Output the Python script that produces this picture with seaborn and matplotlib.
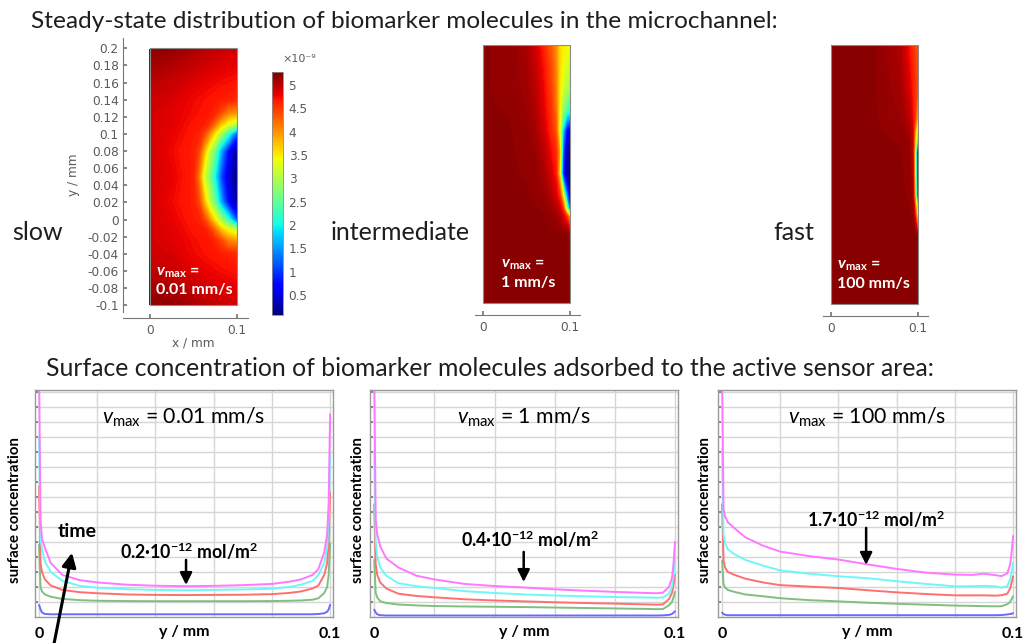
import numpy as np
import pandas as pd
import matplotlib
matplotlib.use("Agg")
import matplotlib.pyplot as plt
from matplotlib.patches import Rectangle
import matplotlib.cm as cm
import matplotlib.colors as mcolors
import seaborn as sns

sns.set_theme(style="white")
plt.rcParams["font.family"] = ["Lato", "DejaVu Sans"]
plt.rcParams.update({
    "mathtext.fontset": "custom",
    "mathtext.rm": "Lato",
    "mathtext.it": "Lato:italic",
    "mathtext.bf": "Lato:bold",
    "mathtext.bfit": "Lato:bold:italic",
    "mathtext.sf": "Lato",
})

# ---------------- data: concentration fields (units 1e-9) ----------------
c_min, c_max = 0.07, 5.28
cbar_ticks = [0.5, 1, 1.5, 2, 2.5, 3, 3.5, 4, 4.5, 5]
cbar_labels = ["0.5", "1", "1.5", "2", "2.5", "3", "3.5", "4", "4.5", "5"]
hm_yticks = [-0.1, -0.08, -0.06, -0.04, -0.02, 0, 0.02, 0.04, 0.06, 0.08, 0.1, 0.12, 0.14, 0.16, 0.18, 0.2]
hm_ytick_labels = ["-0.1", "-0.08", "-0.06", "-0.04", "-0.02", "0", "0.02", "0.04", "0.06", "0.08",
                   "0.1", "0.12", "0.14", "0.16", "0.18", "0.2"]

slow_x = [0, 0.025, 0.04, 0.05, 0.056, 0.062, 0.068, 0.075, 0.082, 0.09, 0.1]
slow_y = [0.2, 0.16, 0.14, 0.125, 0.112, 0.1, 0.08, 0.05, 0.02, 0, -0.012, -0.025, -0.04, -0.06, -0.1]
slow_c = [
    [5.22, 5.18, 5.12, 5.08, 5.05, 5.02, 5.00, 4.97, 4.94, 4.92, 4.90],
    [5.00, 4.94, 4.88, 4.84, 4.82, 4.80, 4.78, 4.76, 4.74, 4.72, 4.70],
    [4.92, 4.88, 4.80, 4.76, 4.74, 4.72, 4.70, 4.68, 4.65, 4.62, 4.60],
    [4.90, 4.83, 4.78, 4.74, 4.72, 4.70, 4.68, 4.60, 4.40, 4.10, 3.95],
    [4.90, 4.82, 4.75, 4.70, 4.68, 4.66, 4.55, 4.20, 3.75, 3.40, 3.10],
    [4.90, 4.80, 4.72, 4.66, 4.64, 4.45, 4.05, 3.50, 2.90, 2.20, 1.10],
    [4.90, 4.76, 4.68, 4.64, 4.45, 3.85, 3.20, 2.55, 1.60, 0.75, 0.18],
    [4.90, 4.80, 4.70, 4.64, 4.15, 3.30, 2.75, 2.00, 1.10, 0.50, 0.10],
    [4.90, 4.76, 4.68, 4.64, 4.45, 3.85, 3.20, 2.55, 1.60, 0.75, 0.18],
    [4.90, 4.80, 4.72, 4.66, 4.64, 4.45, 4.05, 3.50, 2.90, 2.20, 1.10],
    [4.90, 4.82, 4.75, 4.70, 4.68, 4.66, 4.55, 4.20, 3.75, 3.40, 3.10],
    [4.90, 4.83, 4.78, 4.74, 4.72, 4.70, 4.68, 4.60, 4.40, 4.10, 3.95],
    [4.92, 4.88, 4.80, 4.76, 4.74, 4.72, 4.70, 4.68, 4.65, 4.62, 4.60],
    [5.00, 4.94, 4.88, 4.84, 4.82, 4.80, 4.78, 4.76, 4.74, 4.72, 4.70],
    [5.22, 5.18, 5.12, 5.08, 5.05, 5.02, 5.00, 4.97, 4.94, 4.92, 4.90],
]

mid_x = [0, 0.03, 0.05, 0.06, 0.07, 0.078, 0.084, 0.088, 0.092, 0.096, 0.1]
mid_y = [0.2, 0.175, 0.15, 0.125, 0.1, 0.075, 0.05, 0.025, 0.01, 0, -0.02, -0.1]
mid_c = [
    [5.22, 5.20, 5.08, 4.90, 4.60, 4.30, 4.00, 3.60, 3.50, 3.45, 3.40],
    [5.22, 5.20, 5.10, 4.95, 4.70, 4.40, 4.05, 3.60, 3.40, 3.25, 3.15],
    [5.22, 5.20, 5.12, 5.00, 4.75, 4.45, 4.10, 3.55, 3.20, 3.00, 2.90],
    [5.22, 5.21, 5.15, 5.05, 4.80, 4.55, 4.15, 3.50, 2.80, 2.40, 2.20],
    [5.22, 5.22, 5.18, 5.10, 4.88, 4.60, 4.30, 3.40, 1.80, 0.70, 0.50],
    [5.22, 5.22, 5.20, 5.15, 5.00, 4.75, 4.55, 3.90, 1.20, 0.30, 0.12],
    [5.22, 5.22, 5.21, 5.18, 5.08, 4.88, 4.65, 3.60, 0.90, 0.25, 0.10],
    [5.22, 5.22, 5.22, 5.20, 5.15, 5.02, 4.85, 4.55, 3.50, 1.50, 0.30],
    [5.22, 5.22, 5.22, 5.22, 5.20, 5.12, 5.02, 4.90, 4.50, 3.00, 1.00],
    [5.22, 5.22, 5.22, 5.22, 5.22, 5.20, 5.15, 5.05, 4.90, 4.60, 3.80],
    [5.22, 5.22, 5.22, 5.22, 5.22, 5.22, 5.22, 5.22, 5.22, 5.22, 5.10],
    [5.22, 5.22, 5.22, 5.22, 5.22, 5.22, 5.22, 5.22, 5.22, 5.22, 5.22],
]

fast_x = [0, 0.05, 0.08, 0.09, 0.094, 0.0965, 0.0985, 0.1]
fast_y = [0.2, 0.15, 0.115, 0.1, 0.075, 0.05, 0.025, 0, -0.02, -0.1]
fast_c = [
    [5.22, 5.22, 5.05, 4.70, 4.55, 4.45, 4.40, 4.35],
    [5.22, 5.22, 5.10, 4.85, 4.65, 4.55, 4.45, 4.40],
    [5.22, 5.22, 5.15, 5.00, 4.75, 4.50, 4.00, 3.80],
    [5.22, 5.22, 5.20, 5.10, 4.85, 4.00, 3.20, 2.80],
    [5.22, 5.22, 5.22, 5.18, 4.90, 3.50, 1.20, 0.40],
    [5.22, 5.22, 5.22, 5.20, 5.00, 3.60, 1.30, 0.45],
    [5.22, 5.22, 5.22, 5.21, 5.10, 3.90, 1.60, 0.80],
    [5.22, 5.22, 5.22, 5.22, 5.20, 4.80, 4.00, 3.40],
    [5.22, 5.22, 5.22, 5.22, 5.22, 5.22, 5.22, 5.20],
    [5.22, 5.22, 5.22, 5.22, 5.22, 5.22, 5.22, 5.22],
]

# ---------------- data: surface concentration curves (grid units) ----------------
y_mm = [0, 0.0005, 0.001, 0.002, 0.004, 0.008, 0.014, 0.02, 0.03, 0.04, 0.05,
        0.06, 0.07, 0.08, 0.086, 0.09, 0.094, 0.096, 0.098, 0.099, 0.0995, 0.1]
time_steps = ["t1", "t2", "t3", "t4", "t5"]

slow_t1 = [0.8, 0.5, 0.3, 0.2, 0.18, 0.18, 0.18, 0.18, 0.18, 0.18, 0.18, 0.18, 0.18, 0.18, 0.18, 0.18, 0.18, 0.2, 0.25, 0.35, 0.5, 0.8]
slow_t2 = [4.8, 2.0, 1.7, 1.5, 1.35, 1.2, 1.12, 1.08, 1.06, 1.05, 1.05, 1.05, 1.05, 1.06, 1.08, 1.1, 1.15, 1.25, 1.6, 2.0, 2.8, 4.9]
slow_t3 = [8.7, 3.6, 3.0, 2.5, 2.1, 1.8, 1.65, 1.58, 1.5, 1.47, 1.46, 1.47, 1.48, 1.52, 1.6, 1.7, 1.9, 2.1, 2.8, 3.6, 5.0, 8.3]
slow_t4 = [11.9, 5.2, 4.5, 3.7, 3.0, 2.4, 2.07, 1.95, 1.85, 1.8, 1.78, 1.8, 1.83, 1.88, 2.0, 2.15, 2.4, 2.8, 3.6, 4.6, 6.5, 10.8]
slow_t5 = [16, 6.5, 5.2, 4.6, 3.6, 2.8, 2.45, 2.3, 2.15, 2.08, 2.05, 2.07, 2.12, 2.2, 2.35, 2.5, 2.8, 3.2, 4.3, 5.5, 7.5, 13.5]

mid_t1 = [0.49, 0.3, 0.18, 0.12, 0.1, 0.1, 0.1, 0.1, 0.1, 0.1, 0.1, 0.1, 0.1, 0.1, 0.1, 0.1, 0.1, 0.11, 0.14, 0.2, 0.28, 0.38]
mid_t2 = [3.8, 1.6, 1.3, 1.05, 0.93, 0.83, 0.77, 0.73, 0.7, 0.68, 0.66, 0.63, 0.6, 0.57, 0.55, 0.54, 0.52, 0.53, 0.78, 1.0, 1.3, 1.67]
mid_t3 = [7.5, 3.5, 2.8, 2.3, 1.9, 1.55, 1.4, 1.31, 1.18, 1.1, 1.04, 0.98, 0.93, 0.89, 0.86, 0.84, 0.82, 0.84, 1.2, 1.6, 2.1, 2.8]
mid_t4 = [11.1, 5.0, 4.0, 3.3, 2.75, 2.25, 2.05, 1.93, 1.72, 1.6, 1.5, 1.43, 1.38, 1.33, 1.31, 1.3, 1.28, 1.3, 1.55, 2.0, 2.7, 3.9]
mid_t5 = [16, 6.5, 5.5, 4.7, 3.9, 3.3, 2.75, 2.5, 2.2, 2.06, 1.96, 1.84, 1.75, 1.67, 1.63, 1.6, 1.58, 1.62, 2.0, 2.6, 3.5, 5.0]

fast_t1 = [0.29, 0.2, 0.15, 0.12, 0.12, 0.12, 0.12, 0.12, 0.12, 0.12, 0.12, 0.12, 0.12, 0.12, 0.12, 0.12, 0.12, 0.13, 0.17, 0.2, 0.22, 0.25]
fast_t2 = [3.73, 2.2, 1.96, 1.8, 1.68, 1.5, 1.38, 1.25, 1.12, 1.04, 0.95, 0.88, 0.82, 0.76, 0.74, 0.72, 0.71, 0.72, 0.85, 1.0, 1.2, 1.38]
fast_t3 = [7.5, 3.8, 3.3, 3.0, 2.82, 2.55, 2.3, 2.12, 2.02, 1.93, 1.78, 1.64, 1.53, 1.44, 1.44, 1.44, 1.42, 1.45, 1.55, 1.9, 2.3, 2.7]
fast_t4 = [11.2, 5.5, 4.9, 4.5, 4.2, 3.8, 3.42, 3.1, 2.88, 2.71, 2.58, 2.38, 2.2, 2.04, 2.05, 2.07, 2.04, 1.95, 2.05, 2.5, 3.0, 3.6]
fast_t5 = [16, 7.2, 6.7, 6.3, 5.95, 5.3, 4.75, 4.35, 4.05, 3.82, 3.5, 3.2, 2.95, 2.82, 2.8, 2.88, 2.78, 2.72, 2.9, 3.5, 4.3, 5.4]

line_colors = {"t1": "#6a6aff", "t2": "#7fbf7f", "t3": "#ff6f6f", "t4": "#6ff7f7", "t5": "#ff78ff"}

speed_labels = ["0.01 mm/s", "1 mm/s", "100 mm/s"]
level_labels = ["0.2", "0.4", "1.7"]

# ---------------- figure ----------------
W, H = 1026, 643
fig = plt.figure(figsize=(W / 100, H / 100), dpi=100)
fig.patch.set_facecolor("white")


def box(l, t, r, b):
    return [l / W, 1 - b / H, (r - l) / W, (b - t) / H]


def fxy(x, y):
    return x / W, 1 - y / H


GREY = "#5a5a5a"
TXT = "#1e1e1e"
cmap = plt.get_cmap("jet")
fill_levels = np.linspace(c_min, c_max, 160)


def draw_field(ax, xs, ys, cs):
    X, Y = np.meshgrid(xs, ys)
    ax.contourf(X, Y, np.array(cs), levels=fill_levels, cmap=cmap,
                norm=mcolors.Normalize(vmin=c_min, vmax=c_max),
                antialiased=False, zorder=1)
    ax.add_patch(Rectangle((0, -0.1), 0.1, 0.3, fill=False, ec="#8a8a8a", lw=0.8, zorder=3))


def style_hm(ax, left_axis):
    ax.set_facecolor("white")
    for s in ["top", "right"]:
        ax.spines[s].set_visible(False)
    ax.spines["left"].set_visible(left_axis)
    for s in ["left", "bottom"]:
        ax.spines[s].set_color("#777777")
        ax.spines[s].set_linewidth(0.8)
    ax.spines["bottom"].set_position(("outward", 4.3))
    ax.set_xticks([0, 0.1])
    ax.set_xticklabels(["0", "0.1"])
    ax.tick_params(axis="x", direction="in", length=3, color="#777777", labelcolor=GREY,
                   labelsize=8.7, pad=4, bottom=True)
    if left_axis:
        ax.set_yticks(hm_yticks)
        ax.set_yticklabels(hm_ytick_labels)
        ax.tick_params(axis="y", direction="in", length=3, color="#777777", labelcolor=GREY,
                       labelsize=8.7, pad=3, left=True)
    else:
        ax.set_yticks([])
    for lbl in ax.get_xticklabels() + ax.get_yticklabels():
        lbl.set_family("DejaVu Sans")
    ax.grid(False)


def vmax_text(ax, x0, y1, y2, speed):
    ax.text(x0, y1, r"$\mathbfit{v}_{\mathbf{max}}$ =", color="white", fontsize=11.5,
            fontweight="bold", ha="left", va="center", zorder=4)
    ax.text(x0, y2, speed, color="white", fontsize=11.5, fontweight="bold",
            ha="left", va="center", zorder=4)


# heat map 1 (slow)
ax1 = fig.add_axes(box(123, 38, 248, 312))
draw_field(ax1, slow_x, slow_y, slow_c)
ax1.set_xlim(-0.031, 0.113)
ax1.set_ylim(-0.108, 0.212)
style_hm(ax1, True)
vmax_text(ax1, 0.007, -0.062, -0.082, speed_labels[0])
fig.text(*fxy(73, 175), "y / mm", rotation=90, ha="center", va="center", color=GREY,
         fontsize=8.7, family="DejaVu Sans")
fig.text(*fxy(193, 343), "x / mm", ha="center", va="center", color=GREY,
         fontsize=8.7, family="DejaVu Sans")

# heat map 2 (intermediate)
ax2 = fig.add_axes(box(475, 45, 580, 309))
draw_field(ax2, mid_x, mid_y, mid_c)
ax2.set_xlim(-0.0092, 0.1115)
ax2.set_ylim(-0.107, 0.2)
style_hm(ax2, False)
vmax_text(ax2, 0.021, -0.056, -0.077, speed_labels[1])

# heat map 3 (fast)
ax3 = fig.add_axes(box(823, 45, 928, 310))
draw_field(ax3, fast_x, fast_y, fast_c)
ax3.set_xlim(-0.0092, 0.1115)
ax3.set_ylim(-0.107, 0.2)
style_hm(ax3, False)
vmax_text(ax3, 0.007, -0.056, -0.077, speed_labels[2])

# colorbar (created last so its ticks are not reset)
cax = fig.add_axes(box(272, 72, 283, 315))
cb = fig.colorbar(cm.ScalarMappable(norm=mcolors.Normalize(vmin=c_min, vmax=c_max), cmap=cmap),
                  cax=cax)
cb.set_ticks(cbar_ticks, labels=cbar_labels)
cb.ax.tick_params(length=0, labelsize=8.7, labelcolor=GREY, pad=4)
for lbl in cb.ax.get_yticklabels():
    lbl.set_family("DejaVu Sans")
cb.outline.set_edgecolor("#8a8a8a")
cb.outline.set_linewidth(0.6)
fig.text(*fxy(282, 59), "×10⁻⁹", ha="left", va="center", color=GREY, fontsize=8,
         family="DejaVu Sans")

# titles and speed words
fig.text(*fxy(31, 22), "Steady-state distribution of biomarker molecules in the microchannel:",
         ha="left", va="center", fontsize=17.6, color=TXT)
fig.text(*fxy(46, 368), "Surface concentration of biomarker molecules adsorbed to the active sensor area:",
         ha="left", va="center", fontsize=17.8, color=TXT)
fig.text(*fxy(12, 232), "slow", ha="left", va="center", fontsize=18, color=TXT)
fig.text(*fxy(331, 232), "intermediate", ha="left", va="center", fontsize=18, color=TXT)
fig.text(*fxy(773, 232), "fast", ha="left", va="center", fontsize=18, color=TXT)

# ---------------- line panels ----------------
panels = [
    (box(35, 390, 333, 617), [slow_t1, slow_t2, slow_t3, slow_t4, slow_t5], 15),
    (box(370, 390, 678, 617), [mid_t1, mid_t2, mid_t3, mid_t4, mid_t5], 358),
    (box(718, 390, 1016, 617), [fast_t1, fast_t2, fast_t3, fast_t4, fast_t5], 705),
]
arrow_spec = [
    # (label x, label y, arrow x, arrow tail y, arrow tip y)
    (0.0515, 4.33, 0.0505, 3.8, 2.13),
    (0.0517, 5.13, 0.0497, 4.33, 2.33),
    (0.053, 6.47, 0.0495, 5.93, 3.47),
]

for i, (bx, series, ylab_x) in enumerate(panels):
    ax = fig.add_axes(bx)
    frames = []
    for name, vals in zip(time_steps, series):
        frames.append(pd.DataFrame({"y": y_mm, "c": vals, "t": name}))
    df = pd.concat(frames, ignore_index=True)
    sns.lineplot(data=df, x="y", y="c", hue="t", palette=line_colors, ax=ax,
                 legend=False, linewidth=1.4, estimator=None, sort=False)
    ax.set_xlim(-0.0014, 0.101)
    ax.set_ylim(0, 15.1)
    ax.set_xticks([0, 0.02, 0.04, 0.06, 0.08, 0.1])
    ax.set_xticklabels(["0", "", "", "", "", "0.1"])
    ax.set_yticks(range(1, 16))
    ax.set_yticklabels([])
    ax.grid(True, color="#d6d6d6", linewidth=1.0)
    ax.set_axisbelow(True)
    for s in ax.spines.values():
        s.set_color("#9a9a9a")
        s.set_linewidth(1.0)
        s.set_visible(True)
    ax.tick_params(axis="x", length=0, pad=7, labelsize=11.5, labelcolor="black")
    ax.tick_params(axis="y", direction="in", length=2, color="#777777", left=True)
    for lbl in ax.get_xticklabels():
        lbl.set_fontweight("bold")
    ax.set_xlabel("")
    ax.set_ylabel("")
    ax.text(0.5, -0.066, "y / mm", transform=ax.transAxes, ha="center", va="center",
            fontsize=11.5, fontweight="bold", color="black")
    fig.text(*fxy(ylab_x, 510), "surface concentration", rotation=90, ha="center", va="center",
             fontsize=10.8, fontweight="bold", color="black")
    ax.text(0.5, 0.88, r"$\mathit{v}_{\mathrm{max}}$ = " + speed_labels[i], transform=ax.transAxes,
            ha="center", va="center", fontsize=15.3, color="black")
    lx, ly, axx, ty, tipy = arrow_spec[i]
    ax.text(lx, ly, level_labels[i] + r"·10$^{\mathbf{-12}}$ mol/m$^{\mathbf{2}}$",
            ha="center", va="center", fontsize=12.8, fontweight="bold", color="black")
    ax.annotate("", xy=(axx, tipy), xytext=(axx, ty),
                arrowprops=dict(arrowstyle="-|>,head_width=0.3,head_length=0.6", lw=1.8,
                                color="black", shrinkA=0, shrinkB=0))
    if i == 0:
        ax.text(0.013, 5.67, "time", ha="center", va="center", fontsize=14,
                fontweight="bold", color="black")
        ax.annotate("", xy=(0.0113, 4.27), xytext=(0.0045, -2.4),
                    arrowprops=dict(arrowstyle="-|>,head_width=0.35,head_length=0.7", lw=2.2,
                                    color="black", shrinkA=0, shrinkB=0),
                    annotation_clip=False)

fig.savefig("out.png", dpi=100, facecolor="white")
